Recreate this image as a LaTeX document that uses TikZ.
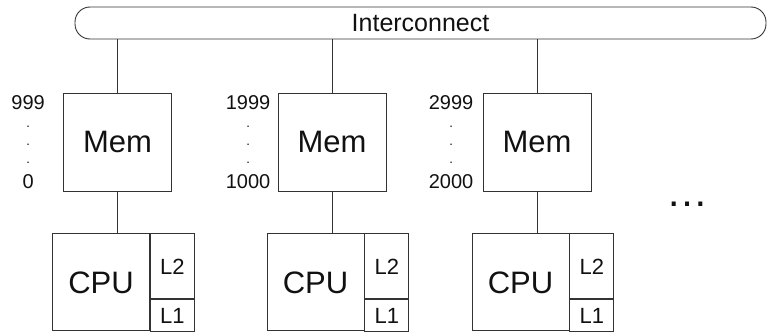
\documentclass[tikz,border=0pt]{standalone}
\usepackage{fontspec}
\setmainfont{Liberation Sans}
\usepackage{tikz}
\usetikzlibrary{positioning, calc}
\definecolor{NM_LINE}{HTML}{333333}
\definecolor{NM_TEXT}{HTML}{111111}
\newcommand{\adot}{{\fontsize{13}{18}\selectfont .}}
\tikzset{
  bus/.style={
    rectangle, rounded corners=15pt,
    minimum width=691pt, minimum height=32pt,
    draw=NM_LINE, line width=0.9pt, text=NM_TEXT,
    font=\fontsize{25}{25}\selectfont},
  memory/.style={
    rectangle, minimum width=108pt, minimum height=98pt,
    draw=NM_LINE, line width=0.9pt, text=NM_TEXT,
    font=\fontsize{31}{31}\selectfont},
  core/.style={
    rectangle, minimum width=97pt, minimum height=97pt,
    draw=NM_LINE, line width=0.9pt, text=NM_TEXT,
    font=\fontsize{31}{31}\selectfont},
  cache/.style={
    rectangle, minimum width=44pt, inner sep=0pt,
    draw=NM_LINE, line width=0.9pt, text=NM_TEXT,
    font=\fontsize{22}{22}\selectfont},
  addr/.style={
    inner sep=0pt, align=center, text=NM_TEXT,
    font=\fontsize{20}{18}\selectfont},
  wire/.style={draw=NM_LINE, line width=0.9pt},
}

\begin{document}
\begin{tikzpicture}[x=1pt, y=1pt]

  \useasboundingbox (0,0) rectangle (767,-332);

  \node[bus] (net) at (420.5,-23) {Interconnect};

  % memory banks
  \node[memory] (mem1) at (117.5,-142) {Mem};
  \node[memory] (mem2) at (332,-142)   {Mem};
  \node[memory] (mem3) at (537,-142)   {Mem};

  % address ranges
  \node[addr, left=18pt of mem1] (rng1) {999\\\adot\\\adot\\\adot\\[7pt]0};
  \node[addr, left=7pt of mem2]  (rng2) {1999\\\adot\\\adot\\\adot\\[7pt]1000};
  \node[addr, left=9pt of mem3]  (rng3) {2999\\\adot\\\adot\\\adot\\[7pt]2000};

  % processors with caches
  \node[core, below=42pt of mem1, xshift=-16.5pt] (cpu1) {CPU};
  \node[cache, minimum height=65pt, anchor=north west] (l2a) at (cpu1.north east) {L2};
  \node[cache, minimum height=32pt, below=0pt of l2a] (l1a) {L1};

  \node[core, below=42pt of mem2, xshift=-16.5pt] (cpu2) {CPU};
  \node[cache, minimum height=65pt, anchor=north west] (l2b) at (cpu2.north east) {L2};
  \node[cache, minimum height=32pt, below=0pt of l2b] (l1b) {L1};

  \node[core, below=42pt of mem3, xshift=-16.5pt] (cpu3) {CPU};
  \node[cache, minimum height=65pt, anchor=north west] (l2c) at (cpu3.north east) {L2};
  \node[cache, minimum height=32pt, below=0pt of l2c] (l1c) {L1};

  \node[text=NM_TEXT, font=\fontsize{42}{42}\selectfont] (more) at (687.5,-204) {…};

  \draw[wire] (net.south -| mem1.north) -- (mem1.north);
  \draw[wire] (net.south -| mem2.north) -- (mem2.north);
  \draw[wire] (net.south -| mem3.north) -- (mem3.north);
  \draw[wire] (mem1.south) -- (mem1.south |- cpu1.north);
  \draw[wire] (mem2.south) -- (mem2.south |- cpu2.north);
  \draw[wire] (mem3.south) -- (mem3.south |- cpu3.north);

\end{tikzpicture}
\end{document}
